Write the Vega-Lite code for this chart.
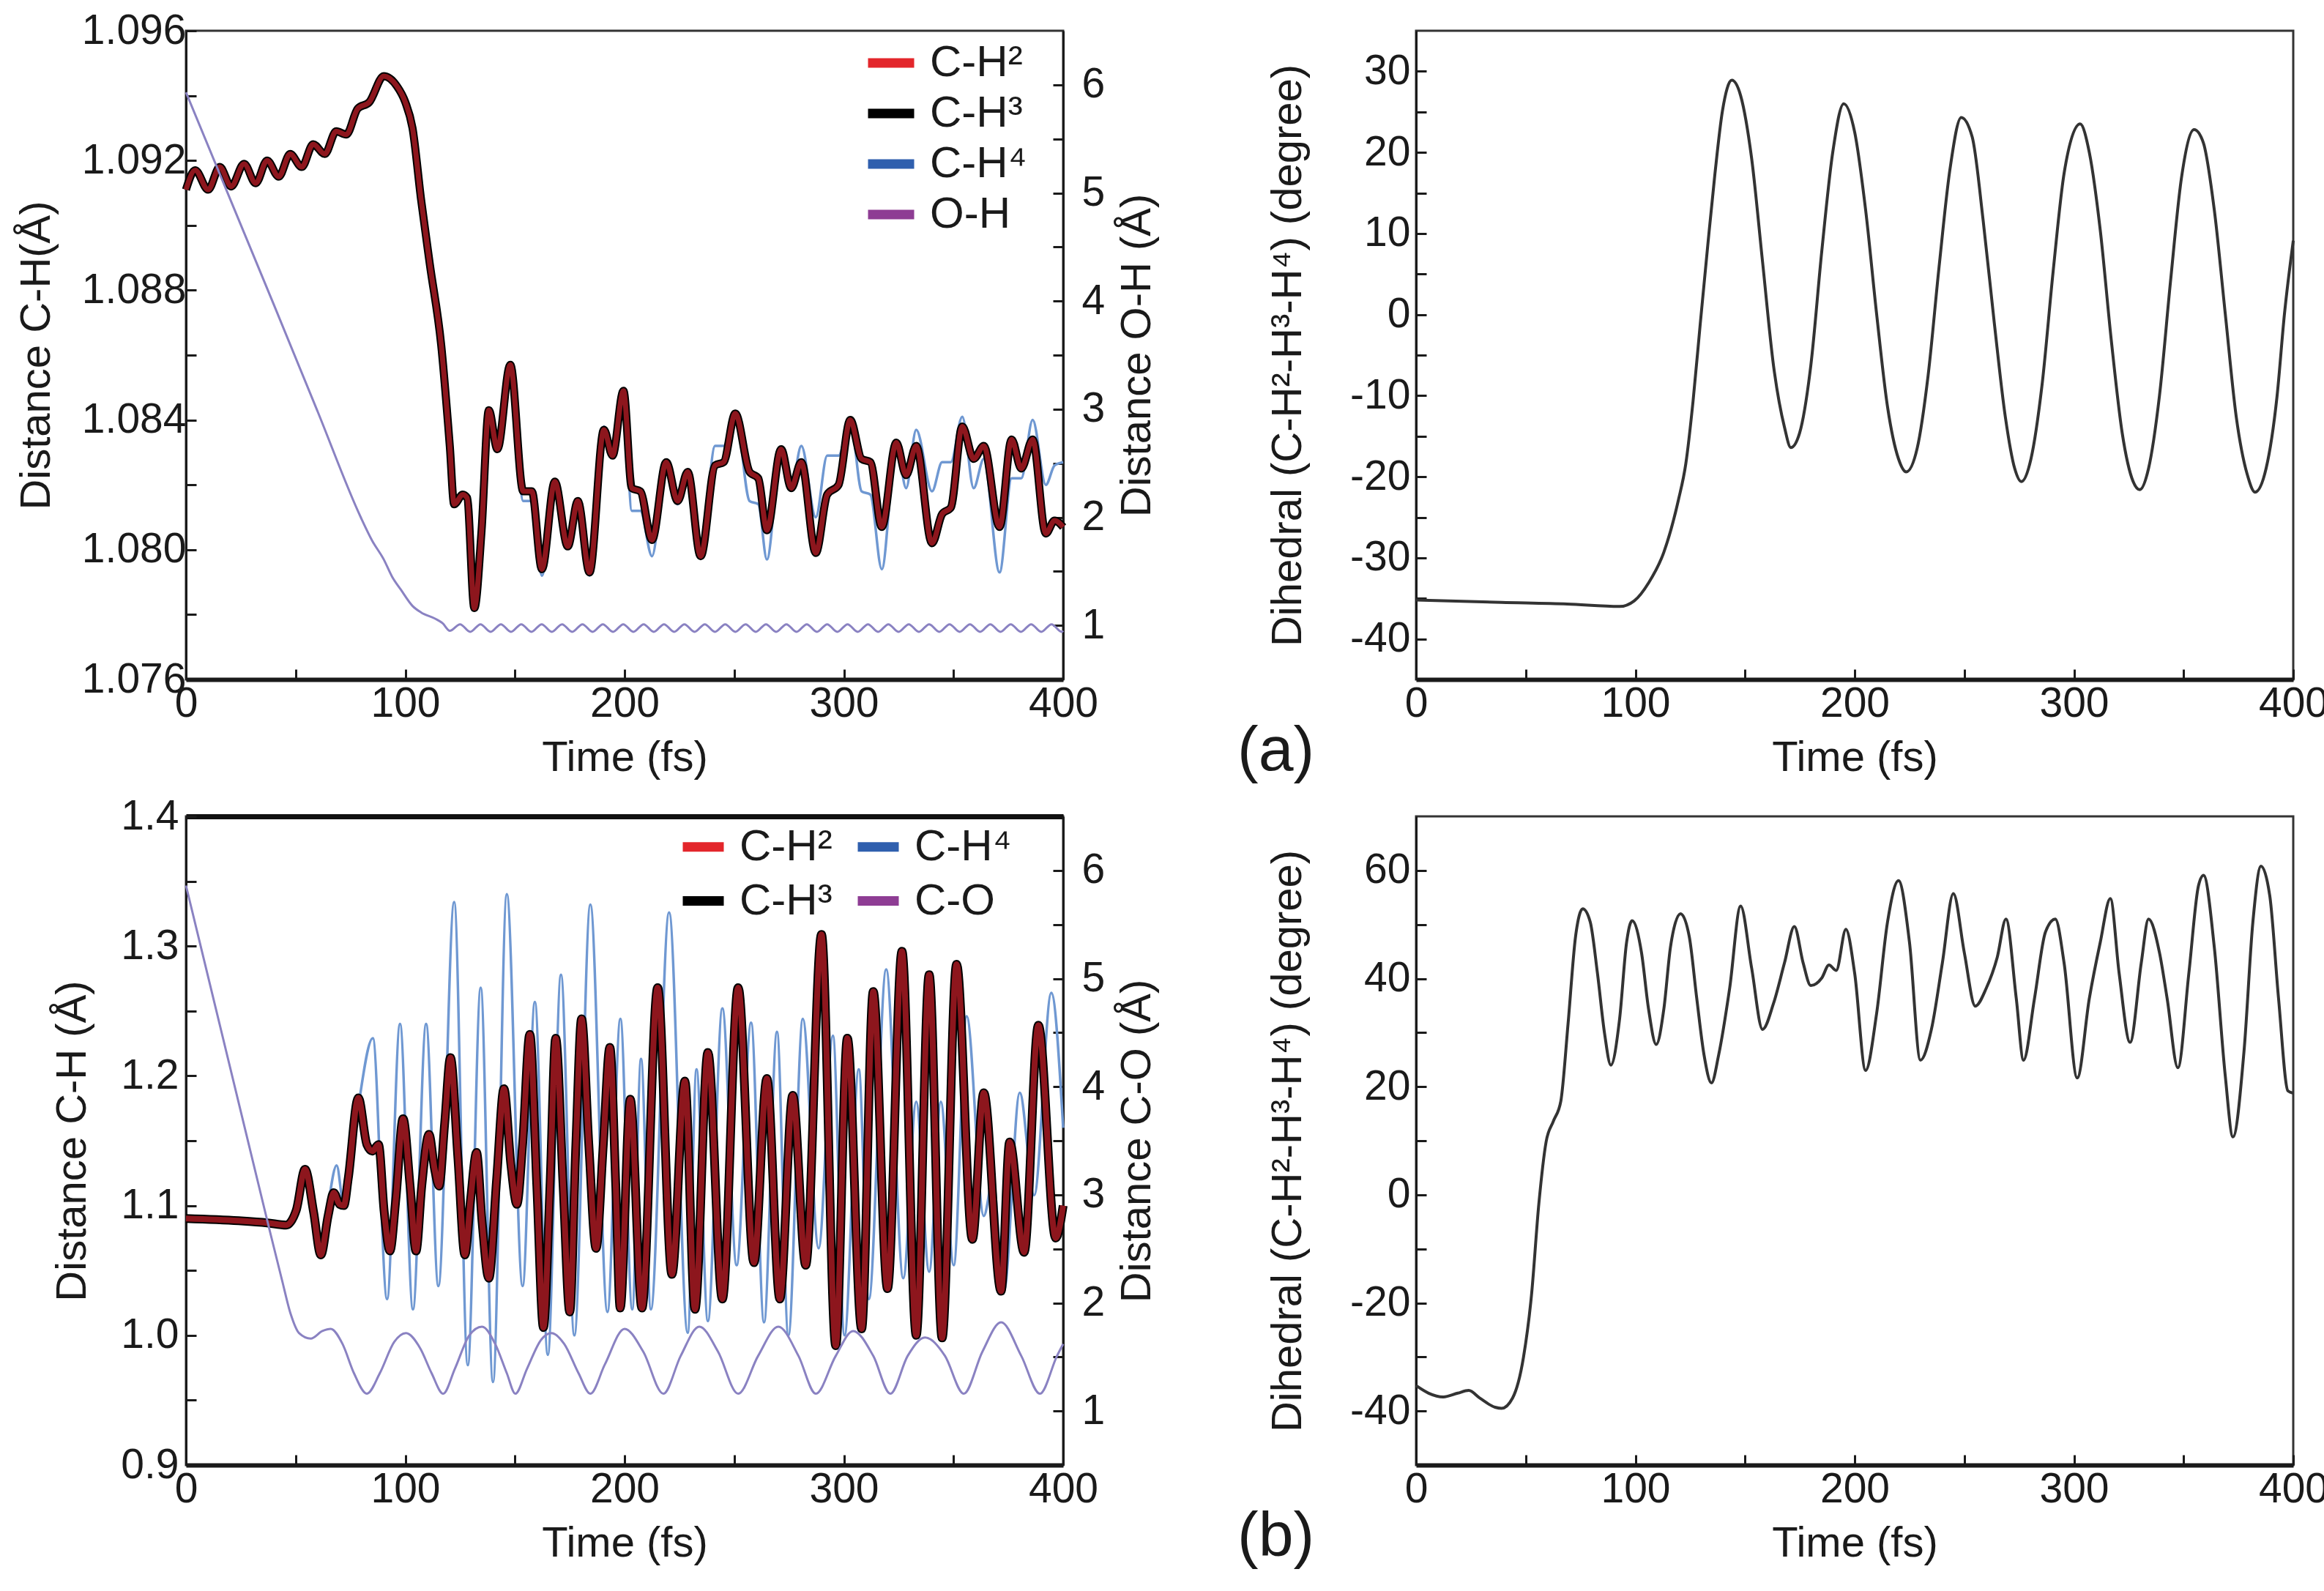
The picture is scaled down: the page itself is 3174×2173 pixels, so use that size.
{
"$schema": "https://vega.github.io/schema/vega-lite/v6.json",
"background": "white",
"padding": {"left": 19, "top": 11, "right": 10, "bottom": 10},
"columns": 2,
"spacing": {"row": 187, "column": 482},
"bounds": "flush",
"resolve": {"scale": {"color": "independent", "x": "independent", "y": "independent"}},
"config": {
 "font": "Liberation Sans",
 "view": {"stroke": "#333", "strokeWidth": 3},
 "axis": {"labelFont": "Liberation Sans", "titleFont": "Liberation Sans", "labelFontSize": 57, "titleFontSize": 58, "titleFontWeight": "normal", "labelColor": "#1a1a1a", "titleColor": "#1a1a1a", "domainColor": "#1a1a1a", "tickColor": "#1a1a1a", "tickSize": -14, "tickWidth": 3, "domainWidth": 3, "grid": false, "labelFlush": false, "labelOverlap": false, "labelBound": false},
 "axisX": {"domainWidth": 6},
 "legend": {"orient": "none", "labelFont": "Liberation Sans", "labelFontSize": 60, "labelColor": "#1a1a1a", "symbolType": "stroke", "symbolStrokeWidth": 13, "symbolOpacity": 1, "labelOffset": 15, "padding": 0}
},
"concat": [
 {
  "data": {"name": "tl"},
  "width": 1198, "height": 886,
  "encoding": {
   "x": {"field": "t", "type": "quantitative", "scale": {"domain": [0, 400], "nice": false}, "axis": {"values": [0,50,100,150,200,250,300,350,400], "labelExpr": "datum.value % 100 === 0 ? '' + datum.value : ''", "title": "Time (fs)", "labelPadding": 19, "titlePadding": 17}}
  },
  "layer": [
   {
    "encoding": {"y": {"field": "v", "type": "quantitative", "scale": {"domain": [1.076, 1.096], "nice": false, "zero": false}, "axis": {"values": [1.076,1.078,1.08,1.082,1.084,1.086,1.088,1.09,1.092,1.094,1.096], "labelExpr": "round(datum.value*1000) % 4 === 0 ? format(datum.value, '.3f') : ''", "title": "Distance C-H(Å)", "labelPadding": 14, "titlePadding": 32}}},
    "layer": [
     {"transform": [{"filter": "datum.s === 'C-H⁴'"}], "mark": {"type": "line", "stroke": "#6f98d2", "strokeWidth": 3.5, "interpolate": "monotone"}},
     {"transform": [{"filter": "datum.s === 'C-H³'"}], "mark": {"type": "line", "strokeWidth": 11, "interpolate": "monotone"},
      "encoding": {"color": {"field": "s", "type": "nominal", "scale": {"domain": ["C-H²", "C-H³", "C-H⁴", "O-H"], "range": ["#e3262b", "#000000", "#2f5fae", "#8e3d94"]}, "legend": {"title": null, "symbolSize": 3969, "legendX": 925, "legendY": 6, "rowPadding": 1}}}},
     {"transform": [{"filter": "datum.s === 'C-H²'"}], "mark": {"type": "line", "stroke": "#b01c24", "opacity": 0.8, "strokeWidth": 7, "interpolate": "monotone"}}
    ]
   },
   {
    "transform": [{"filter": "datum.s === 'O-H'"}],
    "mark": {"type": "line", "stroke": "#8a82c2", "strokeWidth": 3, "interpolate": "monotone"},
    "encoding": {"y": {"field": "v", "type": "quantitative", "scale": {"domain": [0.5, 6.5], "nice": false, "zero": false}, "axis": {"orient": "right", "values": [1,1.5,2,2.5,3,3.5,4,4.5,5,5.5,6], "labelExpr": "datum.value % 1 === 0 ? '' + datum.value : ''", "title": "Distance O-H (Å)", "titleAngle": -90, "titleBaseline": "top", "labelPadding": 39, "titlePadding": 16}}}
   }
  ],
  "resolve": {"scale": {"y": "independent"}}
 },
 {
  "data": {"name": "tr"},
  "width": 1198, "height": 886,
  "title": {"text": "(a)", "orient": "bottom", "anchor": "start", "frame": "group", "dx": -244, "offset": -80, "fontSize": 86, "font": "Liberation Sans", "fontWeight": "normal", "color": "#1a1a1a"},
  "mark": {"type": "line", "stroke": "#333333", "strokeWidth": 4, "interpolate": "monotone"},
  "encoding": {
   "x": {"field": "t", "type": "quantitative", "scale": {"domain": [0, 400], "nice": false}, "axis": {"values": [0,50,100,150,200,250,300,350,400], "labelExpr": "datum.value % 100 === 0 ? '' + datum.value : ''", "title": "Time (fs)", "labelPadding": 19, "titlePadding": 17}},
   "y": {"field": "v", "type": "quantitative", "scale": {"domain": [-45, 35], "nice": false, "zero": false}, "axis": {"values": [-40,-35,-30,-25,-20,-15,-10,-5,0,5,10,15,20,25,30], "labelExpr": "datum.value % 10 === 0 ? '' + datum.value : ''", "title": "Dihedral (C-H²-H³-H⁴) (degree)", "labelPadding": 22, "titlePadding": 55}}
  }
 },
 {
  "data": {"name": "bl"},
  "width": 1198, "height": 886,
  "encoding": {
   "x": {"field": "t", "type": "quantitative", "scale": {"domain": [0, 400], "nice": false}, "axis": {"values": [0,50,100,150,200,250,300,350,400], "labelExpr": "datum.value % 100 === 0 ? '' + datum.value : ''", "title": "Time (fs)", "labelPadding": 19, "titlePadding": 17}}
  },
  "layer": [
   {
    "encoding": {"y": {"field": "v", "type": "quantitative", "scale": {"domain": [0.9, 1.4], "nice": false, "zero": false}, "axis": {"values": [0.9,0.95,1,1.05,1.1,1.15,1.2,1.25,1.3,1.35,1.4], "labelExpr": "round(datum.value*100) % 10 === 0 ? format(datum.value, '.1f') : ''", "title": "Distance C-H (Å)", "labelPadding": 24, "titlePadding": 36}}},
    "layer": [
     {"transform": [{"filter": "datum.s === 'C-H⁴'"}], "mark": {"type": "line", "stroke": "#6f98d2", "strokeWidth": 3.5, "interpolate": "monotone"}},
     {"transform": [{"filter": "datum.s === 'C-H³'"}], "mark": {"type": "line", "strokeWidth": 12, "interpolate": "monotone"},
      "encoding": {"color": {"field": "s", "type": "nominal", "scale": {"domain": ["C-H²", "C-H³", "C-H⁴", "C-O"], "range": ["#e3262b", "#000000", "#2f5fae", "#8e3d94"]}, "legend": {"title": null, "columns": 2, "symbolSize": 3136, "legendX": 672, "legendY": 7, "rowPadding": 9, "columnPadding": 8}}}},
     {"transform": [{"filter": "datum.s === 'C-H²'"}], "mark": {"type": "line", "stroke": "#b01c24", "opacity": 0.8, "strokeWidth": 8, "interpolate": "monotone"}}
    ]
   },
   {
    "transform": [{"filter": "datum.s === 'C-O'"}],
    "mark": {"type": "line", "stroke": "#8a82c2", "strokeWidth": 3, "interpolate": "monotone"},
    "encoding": {
     "x": {"field": "t", "type": "quantitative", "scale": {"domain": [0, 400], "nice": false}, "axis": {"orient": "top", "labels": false, "ticks": false, "title": null, "domainWidth": 7, "domainColor": "#111111"}},
     "y": {"field": "v", "type": "quantitative", "scale": {"domain": [0.5, 6.5], "nice": false, "zero": false}, "axis": {"orient": "right", "values": [1,1.5,2,2.5,3,3.5,4,4.5,5,5.5,6], "labelExpr": "datum.value % 1 === 0 ? '' + datum.value : ''", "title": "Distance C-O (Å)", "titleAngle": -90, "titleBaseline": "top", "labelPadding": 39, "titlePadding": 16}}}
   }
  ],
  "resolve": {"scale": {"y": "independent"}, "axis": {"x": "independent"}}
 },
 {
  "data": {"name": "br"},
  "width": 1198, "height": 886,
  "title": {"text": "(b)", "orient": "bottom", "anchor": "start", "frame": "group", "dx": -244, "offset": -80, "fontSize": 86, "font": "Liberation Sans", "fontWeight": "normal", "color": "#1a1a1a"},
  "mark": {"type": "line", "stroke": "#333333", "strokeWidth": 4, "interpolate": "monotone"},
  "encoding": {
   "x": {"field": "t", "type": "quantitative", "scale": {"domain": [0, 400], "nice": false}, "axis": {"values": [0,50,100,150,200,250,300,350,400], "labelExpr": "datum.value % 100 === 0 ? '' + datum.value : ''", "title": "Time (fs)", "labelPadding": 19, "titlePadding": 17}},
   "y": {"field": "v", "type": "quantitative", "scale": {"domain": [-50, 70], "nice": false, "zero": false}, "axis": {"values": [-40,-30,-20,-10,0,10,20,30,40,50,60], "labelExpr": "datum.value % 20 === 0 ? '' + datum.value : ''", "title": "Dihedral (C-H²-H³-H⁴) (degree)", "labelPadding": 22, "titlePadding": 55}}
  }
 }
],
"datasets": {
 "tl": [
  {"t":0,"s":"C-H²","v":1.0911},{"t":4.2,"s":"C-H²","v":1.0917},{"t":10.1,"s":"C-H²","v":1.0911},{"t":15.4,"s":"C-H²","v":1.0918},{"t":20.6,"s":"C-H²","v":1.0912},{"t":26.5,"s":"C-H²","v":1.0919},{"t":31.8,"s":"C-H²","v":1.0913},{"t":37,"s":"C-H²","v":1.092},{"t":42.3,"s":"C-H²","v":1.0915},{"t":47.5,"s":"C-H²","v":1.0922},{"t":52.8,"s":"C-H²","v":1.0918},{"t":58,"s":"C-H²","v":1.0925},{"t":63.3,"s":"C-H²","v":1.0922},{"t":68.5,"s":"C-H²","v":1.0929},{"t":73.1,"s":"C-H²","v":1.0928},{"t":78.3,"s":"C-H²","v":1.0936},{"t":83.6,"s":"C-H²","v":1.0938},{"t":90.2,"s":"C-H²","v":1.0946},{"t":96.1,"s":"C-H²","v":1.0943},{"t":100,"s":"C-H²","v":1.0938},{"t":103.3,"s":"C-H²","v":1.093},{"t":107.2,"s":"C-H²","v":1.0908},{"t":111.2,"s":"C-H²","v":1.0888},{"t":116.4,"s":"C-H²","v":1.0863},{"t":120.3,"s":"C-H²","v":1.0832},{"t":122.3,"s":"C-H²","v":1.0814},{"t":126.2,"s":"C-H²","v":1.0817},{"t":128.2,"s":"C-H²","v":1.0816},{"t":131.5,"s":"C-H²","v":1.0782},{"t":134.8,"s":"C-H²","v":1.0806},{"t":138.1,"s":"C-H²","v":1.0843},{"t":142,"s":"C-H²","v":1.0831},{"t":147.9,"s":"C-H²","v":1.0857},{"t":153.8,"s":"C-H²","v":1.0818},{"t":157.7,"s":"C-H²","v":1.0818},{"t":162.3,"s":"C-H²","v":1.0794},{"t":168.2,"s":"C-H²","v":1.0821},{"t":174.1,"s":"C-H²","v":1.0801},{"t":178.7,"s":"C-H²","v":1.0815},{"t":184,"s":"C-H²","v":1.0793},{"t":190.6,"s":"C-H²","v":1.0837},{"t":194.5,"s":"C-H²","v":1.0829},{"t":199.5,"s":"C-H²","v":1.0849},{"t":203.3,"s":"C-H²","v":1.0819},{"t":207.2,"s":"C-H²","v":1.0818},{"t":212.5,"s":"C-H²","v":1.0803},{"t":219,"s":"C-H²","v":1.0827},{"t":224.2,"s":"C-H²","v":1.0815},{"t":228.8,"s":"C-H²","v":1.0824},{"t":234.7,"s":"C-H²","v":1.0798},{"t":241.3,"s":"C-H²","v":1.0826},{"t":245.2,"s":"C-H²","v":1.0827},{"t":250.5,"s":"C-H²","v":1.0842},{"t":257,"s":"C-H²","v":1.0824},{"t":261,"s":"C-H²","v":1.0822},{"t":264.9,"s":"C-H²","v":1.0806},{"t":271.4,"s":"C-H²","v":1.0831},{"t":276,"s":"C-H²","v":1.0819},{"t":280.6,"s":"C-H²","v":1.0827},{"t":287.2,"s":"C-H²","v":1.0799},{"t":292.4,"s":"C-H²","v":1.0817},{"t":297.6,"s":"C-H²","v":1.082},{"t":302.9,"s":"C-H²","v":1.084},{"t":308.1,"s":"C-H²","v":1.0828},{"t":312.1,"s":"C-H²","v":1.0827},{"t":317.3,"s":"C-H²","v":1.0807},{"t":323.9,"s":"C-H²","v":1.0833},{"t":328.4,"s":"C-H²","v":1.0823},{"t":333,"s":"C-H²","v":1.0832},{"t":340.2,"s":"C-H²","v":1.0802},{"t":344.8,"s":"C-H²","v":1.0811},{"t":348.8,"s":"C-H²","v":1.0813},{"t":354,"s":"C-H²","v":1.0838},{"t":359.2,"s":"C-H²","v":1.0828},{"t":363.8,"s":"C-H²","v":1.0832},{"t":371,"s":"C-H²","v":1.0807},{"t":376.5,"s":"C-H²","v":1.0834},{"t":380.9,"s":"C-H²","v":1.0825},{"t":386.1,"s":"C-H²","v":1.0834},{"t":392.1,"s":"C-H²","v":1.0805},{"t":396.1,"s":"C-H²","v":1.0809},{"t":400,"s":"C-H²","v":1.0807},
  {"t":0,"s":"C-H³","v":1.0911},{"t":4.2,"s":"C-H³","v":1.0917},{"t":10.1,"s":"C-H³","v":1.0911},{"t":15.4,"s":"C-H³","v":1.0918},{"t":20.6,"s":"C-H³","v":1.0912},{"t":26.5,"s":"C-H³","v":1.0919},{"t":31.8,"s":"C-H³","v":1.0913},{"t":37,"s":"C-H³","v":1.092},{"t":42.3,"s":"C-H³","v":1.0915},{"t":47.5,"s":"C-H³","v":1.0922},{"t":52.8,"s":"C-H³","v":1.0918},{"t":58,"s":"C-H³","v":1.0925},{"t":63.3,"s":"C-H³","v":1.0922},{"t":68.5,"s":"C-H³","v":1.0929},{"t":73.1,"s":"C-H³","v":1.0928},{"t":78.3,"s":"C-H³","v":1.0936},{"t":83.6,"s":"C-H³","v":1.0938},{"t":90.2,"s":"C-H³","v":1.0946},{"t":96.1,"s":"C-H³","v":1.0943},{"t":100,"s":"C-H³","v":1.0938},{"t":103.3,"s":"C-H³","v":1.093},{"t":107.2,"s":"C-H³","v":1.0908},{"t":111.2,"s":"C-H³","v":1.0888},{"t":116.4,"s":"C-H³","v":1.0863},{"t":120.3,"s":"C-H³","v":1.0832},{"t":122.3,"s":"C-H³","v":1.0814},{"t":126.2,"s":"C-H³","v":1.0817},{"t":128.2,"s":"C-H³","v":1.0816},{"t":131.5,"s":"C-H³","v":1.0782},{"t":134.8,"s":"C-H³","v":1.0806},{"t":138.1,"s":"C-H³","v":1.0843},{"t":142,"s":"C-H³","v":1.0831},{"t":147.9,"s":"C-H³","v":1.0857},{"t":153.8,"s":"C-H³","v":1.0818},{"t":157.7,"s":"C-H³","v":1.0818},{"t":162.3,"s":"C-H³","v":1.0794},{"t":168.2,"s":"C-H³","v":1.0821},{"t":174.1,"s":"C-H³","v":1.0801},{"t":178.7,"s":"C-H³","v":1.0815},{"t":184,"s":"C-H³","v":1.0793},{"t":190.6,"s":"C-H³","v":1.0837},{"t":194.5,"s":"C-H³","v":1.0829},{"t":199.5,"s":"C-H³","v":1.0849},{"t":203.3,"s":"C-H³","v":1.0819},{"t":207.2,"s":"C-H³","v":1.0818},{"t":212.5,"s":"C-H³","v":1.0803},{"t":219,"s":"C-H³","v":1.0827},{"t":224.2,"s":"C-H³","v":1.0815},{"t":228.8,"s":"C-H³","v":1.0824},{"t":234.7,"s":"C-H³","v":1.0798},{"t":241.3,"s":"C-H³","v":1.0826},{"t":245.2,"s":"C-H³","v":1.0827},{"t":250.5,"s":"C-H³","v":1.0842},{"t":257,"s":"C-H³","v":1.0824},{"t":261,"s":"C-H³","v":1.0822},{"t":264.9,"s":"C-H³","v":1.0806},{"t":271.4,"s":"C-H³","v":1.0831},{"t":276,"s":"C-H³","v":1.0819},{"t":280.6,"s":"C-H³","v":1.0827},{"t":287.2,"s":"C-H³","v":1.0799},{"t":292.4,"s":"C-H³","v":1.0817},{"t":297.6,"s":"C-H³","v":1.082},{"t":302.9,"s":"C-H³","v":1.084},{"t":308.1,"s":"C-H³","v":1.0828},{"t":312.1,"s":"C-H³","v":1.0827},{"t":317.3,"s":"C-H³","v":1.0807},{"t":323.9,"s":"C-H³","v":1.0833},{"t":328.4,"s":"C-H³","v":1.0823},{"t":333,"s":"C-H³","v":1.0832},{"t":340.2,"s":"C-H³","v":1.0802},{"t":344.8,"s":"C-H³","v":1.0811},{"t":348.8,"s":"C-H³","v":1.0813},{"t":354,"s":"C-H³","v":1.0838},{"t":359.2,"s":"C-H³","v":1.0828},{"t":363.8,"s":"C-H³","v":1.0832},{"t":371,"s":"C-H³","v":1.0807},{"t":376.5,"s":"C-H³","v":1.0834},{"t":380.9,"s":"C-H³","v":1.0825},{"t":386.1,"s":"C-H³","v":1.0834},{"t":392.1,"s":"C-H³","v":1.0805},{"t":396.1,"s":"C-H³","v":1.0809},{"t":400,"s":"C-H³","v":1.0807},
  {"t":0,"s":"C-H⁴","v":1.0911},{"t":4.2,"s":"C-H⁴","v":1.0917},{"t":10.1,"s":"C-H⁴","v":1.0911},{"t":15.4,"s":"C-H⁴","v":1.0918},{"t":20.6,"s":"C-H⁴","v":1.0912},{"t":26.5,"s":"C-H⁴","v":1.0919},{"t":31.8,"s":"C-H⁴","v":1.0913},{"t":37,"s":"C-H⁴","v":1.092},{"t":42.3,"s":"C-H⁴","v":1.0915},{"t":47.5,"s":"C-H⁴","v":1.0922},{"t":52.8,"s":"C-H⁴","v":1.0918},{"t":58,"s":"C-H⁴","v":1.0925},{"t":63.3,"s":"C-H⁴","v":1.0922},{"t":68.5,"s":"C-H⁴","v":1.0929},{"t":73.1,"s":"C-H⁴","v":1.0928},{"t":78.3,"s":"C-H⁴","v":1.0936},{"t":83.6,"s":"C-H⁴","v":1.0938},{"t":90.2,"s":"C-H⁴","v":1.0946},{"t":96.1,"s":"C-H⁴","v":1.0943},{"t":100,"s":"C-H⁴","v":1.0938},{"t":103.3,"s":"C-H⁴","v":1.093},{"t":107.2,"s":"C-H⁴","v":1.0908},{"t":111.2,"s":"C-H⁴","v":1.0888},{"t":116.4,"s":"C-H⁴","v":1.0863},{"t":120.3,"s":"C-H⁴","v":1.0832},{"t":122.3,"s":"C-H⁴","v":1.0814},{"t":126.2,"s":"C-H⁴","v":1.0817},{"t":128.2,"s":"C-H⁴","v":1.0816},{"t":131.5,"s":"C-H⁴","v":1.0782},{"t":134.8,"s":"C-H⁴","v":1.0806},{"t":138.1,"s":"C-H⁴","v":1.0843},{"t":142,"s":"C-H⁴","v":1.0831},{"t":147.9,"s":"C-H⁴","v":1.0857},{"t":153.8,"s":"C-H⁴","v":1.0815},{"t":157.7,"s":"C-H⁴","v":1.0815},{"t":162.3,"s":"C-H⁴","v":1.0792},{"t":168.2,"s":"C-H⁴","v":1.0821},{"t":174.1,"s":"C-H⁴","v":1.0801},{"t":178.7,"s":"C-H⁴","v":1.0815},{"t":184,"s":"C-H⁴","v":1.0792},{"t":190.6,"s":"C-H⁴","v":1.0838},{"t":194.5,"s":"C-H⁴","v":1.0829},{"t":199.5,"s":"C-H⁴","v":1.0849},{"t":203.3,"s":"C-H⁴","v":1.0812},{"t":207.2,"s":"C-H⁴","v":1.0812},{"t":212.5,"s":"C-H⁴","v":1.0798},{"t":219,"s":"C-H⁴","v":1.0827},{"t":224.2,"s":"C-H⁴","v":1.0814},{"t":228.8,"s":"C-H⁴","v":1.0824},{"t":234.7,"s":"C-H⁴","v":1.0798},{"t":241.3,"s":"C-H⁴","v":1.0832},{"t":245.2,"s":"C-H⁴","v":1.0832},{"t":250.5,"s":"C-H⁴","v":1.0842},{"t":257,"s":"C-H⁴","v":1.0815},{"t":261,"s":"C-H⁴","v":1.0814},{"t":264.9,"s":"C-H⁴","v":1.0797},{"t":271.4,"s":"C-H⁴","v":1.0831},{"t":276,"s":"C-H⁴","v":1.0819},{"t":280.6,"s":"C-H⁴","v":1.0832},{"t":287.2,"s":"C-H⁴","v":1.081},{"t":292.4,"s":"C-H⁴","v":1.0829},{"t":297.6,"s":"C-H⁴","v":1.0829},{"t":302.9,"s":"C-H⁴","v":1.084},{"t":308.1,"s":"C-H⁴","v":1.0818},{"t":312.1,"s":"C-H⁴","v":1.0817},{"t":317.3,"s":"C-H⁴","v":1.0794},{"t":323.9,"s":"C-H⁴","v":1.0833},{"t":328.4,"s":"C-H⁴","v":1.0819},{"t":333,"s":"C-H⁴","v":1.0837},{"t":340.2,"s":"C-H⁴","v":1.0818},{"t":344.8,"s":"C-H⁴","v":1.0827},{"t":348.8,"s":"C-H⁴","v":1.0827},{"t":354,"s":"C-H⁴","v":1.0841},{"t":359.2,"s":"C-H⁴","v":1.0819},{"t":363.8,"s":"C-H⁴","v":1.0828},{"t":371,"s":"C-H⁴","v":1.0793},{"t":376.5,"s":"C-H⁴","v":1.0822},{"t":380.9,"s":"C-H⁴","v":1.0822},{"t":386.1,"s":"C-H⁴","v":1.084},{"t":392.1,"s":"C-H⁴","v":1.082},{"t":396.1,"s":"C-H⁴","v":1.0826},{"t":400,"s":"C-H⁴","v":1.0827},
  {"t":0,"s":"O-H","v":5.93},{"t":20,"s":"O-H","v":4.95},{"t":40,"s":"O-H","v":3.97},{"t":60,"s":"O-H","v":2.98},{"t":79.7,"s":"O-H","v":2.0},{"t":85,"s":"O-H","v":1.78},{"t":90.2,"s":"O-H","v":1.61},{"t":94,"s":"O-H","v":1.45},{"t":98,"s":"O-H","v":1.33},{"t":103.3,"s":"O-H","v":1.18},{"t":107.2,"s":"O-H","v":1.12},{"t":113.8,"s":"O-H","v":1.06},{"t":117,"s":"O-H","v":1.02},{"t":120.3,"s":"O-H","v":0.95},
  {"t":125,"s":"O-H","v":1.01},{"t":129.6,"s":"O-H","v":0.94},{"t":134.3,"s":"O-H","v":1.01},{"t":138.9,"s":"O-H","v":0.94},{"t":143.6,"s":"O-H","v":1.01},{"t":148.2,"s":"O-H","v":0.94},{"t":152.9,"s":"O-H","v":1.01},{"t":157.5,"s":"O-H","v":0.94},{"t":162.2,"s":"O-H","v":1.01},{"t":166.8,"s":"O-H","v":0.94},{"t":171.5,"s":"O-H","v":1.01},{"t":176.1,"s":"O-H","v":0.94},{"t":180.8,"s":"O-H","v":1.01},{"t":185.4,"s":"O-H","v":0.94},{"t":190.1,"s":"O-H","v":1.01},{"t":194.7,"s":"O-H","v":0.94},{"t":199.4,"s":"O-H","v":1.01},{"t":204,"s":"O-H","v":0.94},{"t":208.7,"s":"O-H","v":1.01},{"t":213.3,"s":"O-H","v":0.94},{"t":218,"s":"O-H","v":1.01},{"t":222.6,"s":"O-H","v":0.94},{"t":227.3,"s":"O-H","v":1.01},{"t":231.9,"s":"O-H","v":0.94},{"t":236.6,"s":"O-H","v":1.01},{"t":241.2,"s":"O-H","v":0.94},{"t":245.9,"s":"O-H","v":1.01},{"t":250.5,"s":"O-H","v":0.94},{"t":255.2,"s":"O-H","v":1.01},{"t":259.8,"s":"O-H","v":0.94},{"t":264.5,"s":"O-H","v":1.01},{"t":269.1,"s":"O-H","v":0.94},{"t":273.8,"s":"O-H","v":1.01},{"t":278.4,"s":"O-H","v":0.94},{"t":283.1,"s":"O-H","v":1.01},{"t":287.7,"s":"O-H","v":0.94},{"t":292.4,"s":"O-H","v":1.01},{"t":297,"s":"O-H","v":0.94},{"t":301.7,"s":"O-H","v":1.01},{"t":306.3,"s":"O-H","v":0.94},{"t":311,"s":"O-H","v":1.01},{"t":315.6,"s":"O-H","v":0.94},{"t":320.3,"s":"O-H","v":1.01},{"t":324.9,"s":"O-H","v":0.94},{"t":329.6,"s":"O-H","v":1.01},{"t":334.2,"s":"O-H","v":0.94},{"t":338.9,"s":"O-H","v":1.01},{"t":343.5,"s":"O-H","v":0.94},{"t":348.2,"s":"O-H","v":1.01},{"t":352.8,"s":"O-H","v":0.94},{"t":357.5,"s":"O-H","v":1.01},{"t":362.1,"s":"O-H","v":0.94},{"t":366.8,"s":"O-H","v":1.01},{"t":371.4,"s":"O-H","v":0.94},{"t":376.1,"s":"O-H","v":1.01},{"t":380.7,"s":"O-H","v":0.94},{"t":385.4,"s":"O-H","v":1.01},{"t":390,"s":"O-H","v":0.94},{"t":394.7,"s":"O-H","v":1.01},{"t":399.3,"s":"O-H","v":0.94},{"t":400,"s":"O-H","v":0.95}
 ],
 "tr": [
  {"t":0,"v":-35.2},{"t":39,"v":-35.5},{"t":69,"v":-35.7},{"t":92.8,"v":-36.0},{"t":99.5,"v":-35.3},{"t":106,"v":-33.1},{"t":113,"v":-29.3},{"t":119.6,"v":-22.9},{"t":123,"v":-18.4},{"t":126.3,"v":-10.7},{"t":129.6,"v":-1.1},{"t":133,"v":8.5},{"t":136.3,"v":17.4},{"t":139.7,"v":25.1},{"t":144,"v":28.9},{"t":148,"v":27},{"t":153,"v":19.3},{"t":158,"v":6.5},{"t":163,"v":-6.3},{"t":168,"v":-13.9},{"t":170.9,"v":-16.4},{"t":174.9,"v":-14.6},{"t":180,"v":-6.3},{"t":185,"v":7.8},{"t":190,"v":20},{"t":195,"v":26},{"t":200,"v":22.5},{"t":205,"v":12.9},{"t":210,"v":0.1},{"t":215,"v":-11.4},{"t":220,"v":-17.8},{"t":223.5,"v":-19.4},{"t":228.5,"v":-16.5},{"t":233.5,"v":-7.5},{"t":238.5,"v":5.9},{"t":243.5,"v":18},{"t":248.6,"v":24.3},{"t":253.6,"v":21.9},{"t":258.6,"v":11.6},{"t":263.7,"v":-1.1},{"t":268.7,"v":-12.6},{"t":273,"v":-19},{"t":276,"v":-20.6},{"t":280.4,"v":-17.8},{"t":285.4,"v":-8.8},{"t":290.5,"v":5.3},{"t":295.5,"v":17.4},{"t":302.8,"v":23.5},{"t":307,"v":20},{"t":312,"v":10.4},{"t":317,"v":-3.1},{"t":322,"v":-14.6},{"t":327,"v":-20.6},{"t":330,"v":-21.6},{"t":334,"v":-19},{"t":339,"v":-10},{"t":344,"v":4},{"t":349,"v":16.8},{"t":354.8,"v":22.8},{"t":359,"v":21.2},{"t":364,"v":12.9},{"t":369,"v":0.1},{"t":374,"v":-12.6},{"t":379,"v":-19.7},{"t":382.6,"v":-21.9},{"t":387.6,"v":-19},{"t":392.6,"v":-10.1},{"t":396,"v":0.1},{"t":400,"v":9.1}
 ],
 "bl": [
  {"t":0,"s":"C-H²","v":1.09},{"t":24,"s":"C-H²","v":1.0883},{"t":37,"s":"C-H²","v":1.0867},{"t":45.7,"s":"C-H²","v":1.085},{"t":50.3,"s":"C-H²","v":1.0965},{"t":54.3,"s":"C-H²","v":1.128},{"t":58.2,"s":"C-H²","v":1.095},{"t":61.5,"s":"C-H²","v":1.062},{"t":64.8,"s":"C-H²","v":1.092},{"t":67.4,"s":"C-H²","v":1.11},{"t":70,"s":"C-H²","v":1.101},{"t":72,"s":"C-H²","v":1.1},{"t":74,"s":"C-H²","v":1.121},{"t":78.6,"s":"C-H²","v":1.183},{"t":82.5,"s":"C-H²","v":1.147},{"t":85,"s":"C-H²","v":1.142},{"t":87.8,"s":"C-H²","v":1.147},{"t":90.4,"s":"C-H²","v":1.095},{"t":93,"s":"C-H²","v":1.065},{"t":95.7,"s":"C-H²","v":1.105},{"t":99,"s":"C-H²","v":1.167},{"t":102.2,"s":"C-H²","v":1.115},{"t":104.9,"s":"C-H²","v":1.065},{"t":107.5,"s":"C-H²","v":1.115},{"t":110.8,"s":"C-H²","v":1.155},{"t":113.4,"s":"C-H²","v":1.128},{"t":115.4,"s":"C-H²","v":1.115},{"t":118,"s":"C-H²","v":1.164},{"t":120.6,"s":"C-H²","v":1.214},{"t":124,"s":"C-H²","v":1.137},{"t":127.2,"s":"C-H²","v":1.062},{"t":129.8,"s":"C-H²","v":1.105},{"t":132.5,"s":"C-H²","v":1.141},{"t":135,"s":"C-H²","v":1.088},{"t":138.1,"s":"C-H²","v":1.044},{"t":141.7,"s":"C-H²","v":1.121},{"t":145,"s":"C-H²","v":1.19},{"t":148.2,"s":"C-H²","v":1.131},{"t":150.9,"s":"C-H²","v":1.101},{"t":153.5,"s":"C-H²","v":1.147},{"t":156.8,"s":"C-H²","v":1.232},{"t":160,"s":"C-H²","v":1.115},{"t":163,"s":"C-H²","v":1.006},{"t":166,"s":"C-H²","v":1.115},{"t":168.6,"s":"C-H²","v":1.229},{"t":172,"s":"C-H²","v":1.115},{"t":175,"s":"C-H²","v":1.018},{"t":177.8,"s":"C-H²","v":1.147},{"t":180.4,"s":"C-H²","v":1.244},{"t":183.7,"s":"C-H²","v":1.147},{"t":187,"s":"C-H²","v":1.067},{"t":190.3,"s":"C-H²","v":1.147},{"t":193.3,"s":"C-H²","v":1.222},{"t":196,"s":"C-H²","v":1.115},{"t":198,"s":"C-H²","v":1.021},{"t":202.6,"s":"C-H²","v":1.182},{"t":207.9,"s":"C-H²","v":1.021},{"t":215.1,"s":"C-H²","v":1.268},{"t":221.6,"s":"C-H²","v":1.047},{"t":227.5,"s":"C-H²","v":1.196},{"t":232.1,"s":"C-H²","v":1.02},{"t":238,"s":"C-H²","v":1.218},{"t":244.6,"s":"C-H²","v":1.028},{"t":251.8,"s":"C-H²","v":1.268},{"t":259,"s":"C-H²","v":1.056},{"t":264.9,"s":"C-H²","v":1.198},{"t":270.8,"s":"C-H²","v":1.028},{"t":276.7,"s":"C-H²","v":1.185},{"t":282.6,"s":"C-H²","v":1.054},{"t":289.8,"s":"C-H²","v":1.309},{"t":296.3,"s":"C-H²","v":0.992},{"t":301.6,"s":"C-H²","v":1.229},{"t":308.1,"s":"C-H²","v":1.005},{"t":313.4,"s":"C-H²","v":1.265},{"t":319.9,"s":"C-H²","v":1.036},{"t":326.5,"s":"C-H²","v":1.296},{"t":333,"s":"C-H²","v":1.0},{"t":338.9,"s":"C-H²","v":1.278},{"t":344.8,"s":"C-H²","v":0.998},{"t":351.4,"s":"C-H²","v":1.286},{"t":358.6,"s":"C-H²","v":1.074},{"t":363.8,"s":"C-H²","v":1.187},{"t":371.7,"s":"C-H²","v":1.034},{"t":375.6,"s":"C-H²","v":1.149},{"t":382.2,"s":"C-H²","v":1.064},{"t":388.7,"s":"C-H²","v":1.239},{"t":396.6,"s":"C-H²","v":1.075},{"t":400,"s":"C-H²","v":1.1},
  {"t":0,"s":"C-H³","v":1.09},{"t":24,"s":"C-H³","v":1.0883},{"t":37,"s":"C-H³","v":1.0867},{"t":45.7,"s":"C-H³","v":1.085},{"t":50.3,"s":"C-H³","v":1.0965},{"t":54.3,"s":"C-H³","v":1.128},{"t":58.2,"s":"C-H³","v":1.095},{"t":61.5,"s":"C-H³","v":1.062},{"t":64.8,"s":"C-H³","v":1.092},{"t":67.4,"s":"C-H³","v":1.11},{"t":70,"s":"C-H³","v":1.101},{"t":72,"s":"C-H³","v":1.1},{"t":74,"s":"C-H³","v":1.121},{"t":78.6,"s":"C-H³","v":1.183},{"t":82.5,"s":"C-H³","v":1.147},{"t":85,"s":"C-H³","v":1.142},{"t":87.8,"s":"C-H³","v":1.147},{"t":90.4,"s":"C-H³","v":1.095},{"t":93,"s":"C-H³","v":1.065},{"t":95.7,"s":"C-H³","v":1.105},{"t":99,"s":"C-H³","v":1.167},{"t":102.2,"s":"C-H³","v":1.115},{"t":104.9,"s":"C-H³","v":1.065},{"t":107.5,"s":"C-H³","v":1.115},{"t":110.8,"s":"C-H³","v":1.155},{"t":113.4,"s":"C-H³","v":1.128},{"t":115.4,"s":"C-H³","v":1.115},{"t":118,"s":"C-H³","v":1.164},{"t":120.6,"s":"C-H³","v":1.214},{"t":124,"s":"C-H³","v":1.137},{"t":127.2,"s":"C-H³","v":1.062},{"t":129.8,"s":"C-H³","v":1.105},{"t":132.5,"s":"C-H³","v":1.141},{"t":135,"s":"C-H³","v":1.088},{"t":138.1,"s":"C-H³","v":1.044},{"t":141.7,"s":"C-H³","v":1.121},{"t":145,"s":"C-H³","v":1.19},{"t":148.2,"s":"C-H³","v":1.131},{"t":150.9,"s":"C-H³","v":1.101},{"t":153.5,"s":"C-H³","v":1.147},{"t":156.8,"s":"C-H³","v":1.232},{"t":160,"s":"C-H³","v":1.115},{"t":163,"s":"C-H³","v":1.006},{"t":166,"s":"C-H³","v":1.115},{"t":168.6,"s":"C-H³","v":1.229},{"t":172,"s":"C-H³","v":1.115},{"t":175,"s":"C-H³","v":1.018},{"t":177.8,"s":"C-H³","v":1.147},{"t":180.4,"s":"C-H³","v":1.244},{"t":183.7,"s":"C-H³","v":1.147},{"t":187,"s":"C-H³","v":1.067},{"t":190.3,"s":"C-H³","v":1.147},{"t":193.3,"s":"C-H³","v":1.222},{"t":196,"s":"C-H³","v":1.115},{"t":198,"s":"C-H³","v":1.021},{"t":202.6,"s":"C-H³","v":1.182},{"t":207.9,"s":"C-H³","v":1.021},{"t":215.1,"s":"C-H³","v":1.268},{"t":221.6,"s":"C-H³","v":1.047},{"t":227.5,"s":"C-H³","v":1.196},{"t":232.1,"s":"C-H³","v":1.02},{"t":238,"s":"C-H³","v":1.218},{"t":244.6,"s":"C-H³","v":1.028},{"t":251.8,"s":"C-H³","v":1.268},{"t":259,"s":"C-H³","v":1.056},{"t":264.9,"s":"C-H³","v":1.198},{"t":270.8,"s":"C-H³","v":1.028},{"t":276.7,"s":"C-H³","v":1.185},{"t":282.6,"s":"C-H³","v":1.054},{"t":289.8,"s":"C-H³","v":1.309},{"t":296.3,"s":"C-H³","v":0.992},{"t":301.6,"s":"C-H³","v":1.229},{"t":308.1,"s":"C-H³","v":1.005},{"t":313.4,"s":"C-H³","v":1.265},{"t":319.9,"s":"C-H³","v":1.036},{"t":326.5,"s":"C-H³","v":1.296},{"t":333,"s":"C-H³","v":1.0},{"t":338.9,"s":"C-H³","v":1.278},{"t":344.8,"s":"C-H³","v":0.998},{"t":351.4,"s":"C-H³","v":1.286},{"t":358.6,"s":"C-H³","v":1.074},{"t":363.8,"s":"C-H³","v":1.187},{"t":371.7,"s":"C-H³","v":1.034},{"t":375.6,"s":"C-H³","v":1.149},{"t":382.2,"s":"C-H³","v":1.064},{"t":388.7,"s":"C-H³","v":1.239},{"t":396.6,"s":"C-H³","v":1.075},{"t":400,"s":"C-H³","v":1.1},
  {"t":0,"s":"C-H⁴","v":1.09},{"t":24,"s":"C-H⁴","v":1.0883},{"t":37,"s":"C-H⁴","v":1.0867},{"t":45.7,"s":"C-H⁴","v":1.085},{"t":50.3,"s":"C-H⁴","v":1.0965},{"t":54.3,"s":"C-H⁴","v":1.128},{"t":58.2,"s":"C-H⁴","v":1.095},{"t":61.5,"s":"C-H⁴","v":1.062},{"t":64.8,"s":"C-H⁴","v":1.1},{"t":68.7,"s":"C-H⁴","v":1.131},{"t":72,"s":"C-H⁴","v":1.1},{"t":78,"s":"C-H⁴","v":1.17},{"t":85.2,"s":"C-H⁴","v":1.229},{"t":91.7,"s":"C-H⁴","v":1.028},{"t":97.6,"s":"C-H⁴","v":1.24},{"t":103.5,"s":"C-H⁴","v":1.02},{"t":109.5,"s":"C-H⁴","v":1.24},{"t":115.1,"s":"C-H⁴","v":1.038},{"t":122.3,"s":"C-H⁴","v":1.334},{"t":128.5,"s":"C-H⁴","v":0.977},{"t":134.4,"s":"C-H⁴","v":1.268},{"t":140,"s":"C-H⁴","v":0.964},{"t":146.3,"s":"C-H⁴","v":1.34},{"t":153.5,"s":"C-H⁴","v":1.038},{"t":159.1,"s":"C-H⁴","v":1.257},{"t":165,"s":"C-H⁴","v":0.985},{"t":171,"s":"C-H⁴","v":1.278},{"t":177.1,"s":"C-H⁴","v":1.0},{"t":184.4,"s":"C-H⁴","v":1.332},{"t":192.2,"s":"C-H⁴","v":1.018},{"t":198.1,"s":"C-H⁴","v":1.244},{"t":203.5,"s":"C-H⁴","v":1.02},{"t":207.5,"s":"C-H⁴","v":1.213},{"t":212,"s":"C-H⁴","v":1.02},{"t":220.3,"s":"C-H⁴","v":1.326},{"t":228.8,"s":"C-H⁴","v":1.002},{"t":232.8,"s":"C-H⁴","v":1.205},{"t":238,"s":"C-H⁴","v":1.011},{"t":244.6,"s":"C-H⁴","v":1.252},{"t":251.1,"s":"C-H⁴","v":1.054},{"t":257.7,"s":"C-H⁴","v":1.241},{"t":263.6,"s":"C-H⁴","v":1.01},{"t":269.5,"s":"C-H⁴","v":1.234},{"t":274.7,"s":"C-H⁴","v":1.0},{"t":281.3,"s":"C-H⁴","v":1.244},{"t":288.5,"s":"C-H⁴","v":1.067},{"t":295,"s":"C-H⁴","v":1.231},{"t":300.3,"s":"C-H⁴","v":1.0},{"t":306.8,"s":"C-H⁴","v":1.205},{"t":311.4,"s":"C-H⁴","v":1.028},{"t":319.3,"s":"C-H⁴","v":1.282},{"t":327.1,"s":"C-H⁴","v":1.044},{"t":333,"s":"C-H⁴","v":1.18},{"t":338.9,"s":"C-H⁴","v":1.049},{"t":344.2,"s":"C-H⁴","v":1.18},{"t":350.1,"s":"C-H⁴","v":1.054},{"t":356,"s":"C-H⁴","v":1.246},{"t":363.8,"s":"C-H⁴","v":1.092},{"t":368,"s":"C-H⁴","v":1.12},{"t":373,"s":"C-H⁴","v":1.034},{"t":380.2,"s":"C-H⁴","v":1.187},{"t":386.8,"s":"C-H⁴","v":1.108},{"t":394.6,"s":"C-H⁴","v":1.264},{"t":400,"s":"C-H⁴","v":1.16},
  {"t":0,"s":"C-O","v":5.86},{"t":37.2,"s":"C-O","v":2.75},{"t":43.8,"s":"C-O","v":2.21},{"t":47.7,"s":"C-O","v":1.9},{"t":51.6,"s":"C-O","v":1.72},{"t":56.9,"s":"C-O","v":1.67},{"t":62.2,"s":"C-O","v":1.74},{"t":66,"s":"C-O","v":1.76},{"t":71.4,"s":"C-O","v":1.62},{"t":76.6,"s":"C-O","v":1.35},{"t":82.5,"s":"C-O","v":1.16},{"t":88.4,"s":"C-O","v":1.35},{"t":95,"s":"C-O","v":1.64},{"t":100.3,"s":"C-O","v":1.72},{"t":106.8,"s":"C-O","v":1.58},{"t":112,"s":"C-O","v":1.35},{"t":117.3,"s":"C-O","v":1.16},{"t":122.6,"s":"C-O","v":1.39},{"t":129.2,"s":"C-O","v":1.7},{"t":135,"s":"C-O","v":1.78},{"t":141,"s":"C-O","v":1.62},{"t":146.3,"s":"C-O","v":1.35},{"t":150.2,"s":"C-O","v":1.16},{"t":155.5,"s":"C-O","v":1.39},{"t":162,"s":"C-O","v":1.66},{"t":166.6,"s":"C-O","v":1.72},{"t":172.5,"s":"C-O","v":1.62},{"t":179,"s":"C-O","v":1.35},{"t":184.4,"s":"C-O","v":1.16},{"t":191,"s":"C-O","v":1.43},{"t":200,"s":"C-O","v":1.76},{"t":208.5,"s":"C-O","v":1.55},{"t":217.7,"s":"C-O","v":1.16},{"t":225.6,"s":"C-O","v":1.51},{"t":234.1,"s":"C-O","v":1.78},{"t":242.6,"s":"C-O","v":1.55},{"t":251.8,"s":"C-O","v":1.16},{"t":260.9,"s":"C-O","v":1.51},{"t":270.1,"s":"C-O","v":1.78},{"t":279.3,"s":"C-O","v":1.51},{"t":287.2,"s":"C-O","v":1.16},{"t":296.3,"s":"C-O","v":1.51},{"t":304.2,"s":"C-O","v":1.74},{"t":313.4,"s":"C-O","v":1.51},{"t":321.2,"s":"C-O","v":1.16},{"t":329.1,"s":"C-O","v":1.51},{"t":337,"s":"C-O","v":1.68},{"t":346.1,"s":"C-O","v":1.51},{"t":354.7,"s":"C-O","v":1.16},{"t":363.2,"s":"C-O","v":1.55},{"t":371.7,"s":"C-O","v":1.82},{"t":380.9,"s":"C-O","v":1.51},{"t":389.4,"s":"C-O","v":1.16},{"t":397.2,"s":"C-O","v":1.51},{"t":400,"s":"C-O","v":1.62}
 ],
 "br": [
  {"t":0,"v":-35.3},{"t":5.7,"v":-36.7},{"t":12.4,"v":-37.4},{"t":19,"v":-36.7},{"t":24,"v":-36.2},{"t":29,"v":-37.6},{"t":36,"v":-39.3},{"t":39,"v":-39.5},{"t":44,"v":-37.6},{"t":49,"v":-30},{"t":52.6,"v":-18.7},{"t":56,"v":-1.6},{"t":59.3,"v":9.8},{"t":62.6,"v":13.6},{"t":66,"v":17.3},{"t":69.3,"v":31.6},{"t":72.7,"v":47.7},{"t":76,"v":52.9},{"t":79.4,"v":50.5},{"t":82.7,"v":41},{"t":86,"v":29.7},{"t":88.8,"v":24},{"t":92.8,"v":32.5},{"t":96,"v":46.7},{"t":98.5,"v":50.7},{"t":102.8,"v":44.8},{"t":106,"v":34.4},{"t":109.5,"v":27.8},{"t":113,"v":34.4},{"t":116,"v":45.8},{"t":120.6,"v":52},{"t":124.6,"v":47.7},{"t":128,"v":36.3},{"t":131.3,"v":25.9},{"t":134.7,"v":20.7},{"t":138,"v":25.9},{"t":143,"v":38.2},{"t":148,"v":53.4},{"t":153,"v":42},{"t":158,"v":30.6},{"t":163,"v":35.4},{"t":168,"v":42.9},{"t":172.5,"v":49.6},{"t":176.5,"v":42.9},{"t":180,"v":38.7},{"t":185,"v":40.1},{"t":188.3,"v":42.5},{"t":191.6,"v":41.5},{"t":196,"v":49.1},{"t":200,"v":41},{"t":205,"v":23},{"t":210,"v":33.5},{"t":215,"v":50.5},{"t":220,"v":58.1},{"t":225,"v":46.7},{"t":230,"v":24.9},{"t":235,"v":30.6},{"t":240,"v":42.9},{"t":245,"v":55.7},{"t":250,"v":44.8},{"t":255,"v":34.9},{"t":260,"v":38.2},{"t":265,"v":43.9},{"t":269,"v":51},{"t":273.7,"v":36.3},{"t":277,"v":24.9},{"t":282,"v":36.3},{"t":287,"v":48.6},{"t":291.5,"v":51},{"t":295.5,"v":42.9},{"t":301.5,"v":21.6},{"t":307,"v":36.3},{"t":312,"v":46.7},{"t":316.6,"v":54.8},{"t":320.6,"v":41},{"t":325.6,"v":28.2},{"t":330.7,"v":42.9},{"t":334,"v":51},{"t":339,"v":44.8},{"t":342.5,"v":36.3},{"t":347.4,"v":23.5},{"t":352.4,"v":41},{"t":356.8,"v":57.2},{"t":359.1,"v":59.1},{"t":364,"v":45.8},{"t":369,"v":22},{"t":372.5,"v":10.7},{"t":377.6,"v":26.8},{"t":381.6,"v":50.5},{"t":385.3,"v":60.8},{"t":389.3,"v":55.3},{"t":393.3,"v":36.3},{"t":397.6,"v":19.2},{"t":400,"v":18.8}
 ]
}
}
